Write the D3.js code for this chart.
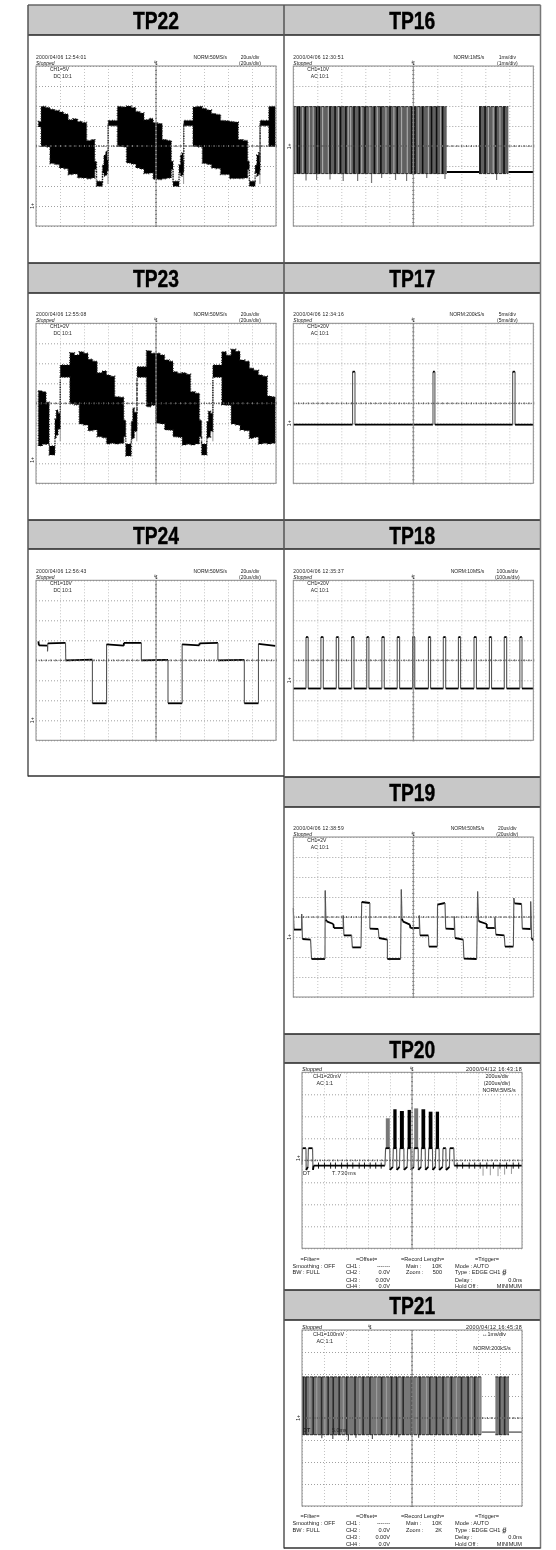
<!DOCTYPE html>
<html>
<head>
<meta charset="utf-8">
<style>
body { margin: 0; background: #fff; }
svg { display: block; }
text { font-family: "Liberation Sans", Arial, sans-serif; fill: #222; }
</style>
<script src="https://cdn.jsdelivr.net/npm/d3@7"></script>
</head>
<body>
<svg id="sheet" width="556" height="1550">
  <defs>
    <filter id="soft" filterUnits="userSpaceOnUse" x="0" y="0" width="556" height="1550">
      <feGaussianBlur stdDeviation="0.32"/>
    </filter>
  </defs>
</svg>
<script>
// all trace values are in screen divisions: t 0..10 left to right, v -4..4 around centre

var titles = ["TP22","TP16","TP23","TP17","TP24","TP18","TP19","TP20","TP21"]
var dates = ["2000/04/06 12:54:01","2000/04/06 12:30:51","2000/04/06 12:55:08","2000/04/06 12:34:16","2000/04/06 12:56:43","2000/04/06 12:35:37","2000/04/06 12:38:59","2000/04/12 16:43:18","2000/04/12 16:45:38"]
var channels = ["CH1=5V","CH1=10V","CH1=2V","CH1=20V","CH1=10V","CH1=20V","CH1=2V","CH1=20mV","CH1=100mV"]
var couplings = ["DC 10:1","AC 10:1","DC 10:1","AC 10:1","DC 10:1","AC 10:1","AC 10:1","AC 1:1","AC 1:1"]
var rates = ["NORM:50MS/s","NORM:1MS/s","NORM:50MS/s","NORM:200kS/s","NORM:50MS/s","NORM:10MS/s","NORM:50MS/s","NORM:5MS/s","NORM:200kS/s"]
var timebases = ["20us/div","1ms/div","20us/div","5ms/div","20us/div","100us/div","20us/div","200us/div","↔1ms/div"]
var groundLevels = [-3,-0.02,-2.83,-1,-3,-1,-1,0.1,0]
var triggerPos = [5,5,5,5,5,5,5,5,3.09]

// TP22 envelope
var tp22T = [.10,.21,.40,.58,.78,.97,1.15,1.34,1.54,1.73,1.92,2.11,2.30,2.45,2.52,2.77,2.83,2.90,2.96,3.01,3.39,3.58,3.77,3.96,4.16,4.33,4.50,4.70,4.88,5.07,5.26,5.45,5.64,5.71,5.96,6.02,6.08,6.13,6.16,6.54,6.73,6.93,7.12,7.31,7.50,7.69,7.88,8.06,8.25,8.43,8.62,8.82,8.89,9.13,9.20,9.27,9.32,9.34,9.70,9.97]
var tp22Top = [1.23,1.98,1.92,1.84,1.78,1.70,1.60,1.31,1.36,1.23,1.18,.28,.32,-.76,-1.76,-.95,-.45,-.27,-.70,1.28,1.98,1.95,2.00,1.92,1.73,1.65,1.31,1.38,1.18,1.12,.32,.28,-.76,-1.76,-.95,-.45,-.35,-.80,1.28,1.95,1.98,1.88,1.80,1.62,1.58,1.28,1.26,1.23,1.20,.32,.28,-.76,-1.76,-.95,-.45,-.33,-.80,1.28,1.98,1.98]
var tp22Bottom = [.95,-.02,-.05,-.88,-.93,-1.10,-1.14,-1.43,-1.40,-1.59,-1.60,-1.64,-1.60,-1.18,-2.01,-1.35,-1.50,-1.45,-1.25,1.01,-.02,-.05,-.85,-.90,-1.10,-1.15,-1.38,-1.35,-1.66,-1.68,-1.64,-1.60,-1.18,-2.01,-1.35,-1.50,-1.45,-1.30,1.01,-.02,-.05,-.88,-.92,-1.10,-1.13,-1.43,-1.42,-1.63,-1.62,-1.63,-1.60,-1.18,-2.01,-1.35,-1.50,-1.40,-1.25,1.01,-.02,-.02]
var tp22Edges = [3.0,6.15,9.33]

// TP23 envelope
var tp23T = [.10,.26,.42,.55,.79,.84,.92,1.01,1.41,1.60,1.80,1.98,2.17,2.36,2.55,2.75,2.94,3.10,3.28,3.48,3.66,3.74,3.97,4.03,4.10,4.21,4.60,4.80,4.99,5.18,5.36,5.55,5.71,5.90,6.09,6.26,6.44,6.63,6.81,6.90,7.12,7.18,7.27,7.37,7.74,7.93,8.13,8.32,8.50,8.70,8.89,9.08,9.27,9.45,9.64,9.80,9.97]
var tp23Top = [.63,.58,.05,-2.13,-.80,-.33,-.50,1.92,2.53,2.42,2.58,2.50,2.20,2.10,1.53,1.62,1.42,1.35,.33,.30,-.85,-2.03,-.90,-.25,-.45,1.83,2.63,2.50,2.50,2.42,2.17,2.10,1.58,1.50,1.53,1.45,.58,.50,-.85,-2.03,-.90,-.40,-.50,1.92,2.58,2.40,2.70,2.60,2.17,2.10,1.75,1.65,1.42,1.35,.37,.33,.33]
var tp23Bottom = [-2.13,-2.05,-2.03,-2.58,-1.75,-1.60,-1.30,1.30,-.03,-.07,-1.03,-1.08,-1.37,-1.33,-1.67,-1.72,-2.03,-2.00,-2.03,-2.00,-1.67,-2.63,-1.80,-1.75,-1.40,1.30,-.17,-.10,-1.00,-1.03,-1.33,-1.35,-1.67,-1.70,-2.08,-2.05,-2.08,-2.03,-1.67,-2.58,-1.75,-1.70,-1.40,1.30,-.08,-.10,-1.03,-1.08,-1.33,-1.37,-1.75,-1.70,-2.03,-2.00,-2.03,-2.00,-2.00]
var tp23Edges = [1.01,4.20,7.37]

// TP16 burst
var tp16BlockStart = [0,7.74]
var tp16BlockEnd = [6.39,8.96]
var tp16High = 1.97
var tp16Low = -1.38
var tp16Idle = -1.3
var tp16Dark = [.17,.25,.50,.97,1.08,1.53,1.74,1.97,2.19,2.53,2.75,2.99,3.38,3.65,4.03,4.33,4.93,5.07,5.39,5.76,5.97,6.22,7.78,7.99,8.44,8.78]
var tp16Light = [.10,.39,.67,.83,1.22,1.46,1.88,2.29,2.39,2.85,3.19,3.50,3.86,4.19,4.51,4.75,5.21,5.63,6.14,8.13,8.33,8.61]
var tp16SpikeT = [.53,.97,1.53,2.08,2.68,3.26,3.68,4.26,4.72,5.56,6.32,8.47]
var tp16SpikeV = [-1.72,-1.7,-1.68,-1.75,-1.75,-1.85,-1.6,-1.7,-1.75,-1.6,-1.65,-1.7]

// TP21 burst
var tp21BlockStart = [0,8.79]
var tp21BlockEnd = [8.16,9.41]
var tp21High = 1.87
var tp21Low = -.76
var tp21Idle = -.64
var tp21Dark = [.06,.18,.51,.89,1.19,1.42,1.69,2.03,2.41,2.78,3.09,3.62,4.07,4.30,4.60,4.98,5.36,5.81,6.11,6.41,6.79,7.25,7.55,7.85,8.99,9.21]
var tp21Light = [.36,.67,1.04,1.88,2.63,3.39,3.84,4.45,5.20,5.66,6.64,7.02,7.70,8.08]
var tp21SpikeT = [.90,1.40,2.11,2.45,3.2,4.4,5.3]
var tp21SpikeV = [-.92,-.95,-1.03,-.9,-.95,-.88,-.9]

// TP17 pulses
var tp17T = [0,2.47,2.47,2.57,2.57,5.82,5.82,5.90,5.90,9.14,9.14,9.24,9.24,10]
var tp17V = [-1.07,-1.07,1.58,1.58,-1.07,-1.07,1.58,1.58,-1.07,-1.07,1.58,1.58,-1.07,-1.07]

// TP18 pulses
var tp18Start = [.53,1.15,1.79,2.43,3.06,3.69,4.33,4.97,5.63,6.25,6.88,7.53,8.17,8.79,9.44]
var tp18End = [.62,1.25,1.89,2.53,3.15,3.79,4.43,5.06,5.72,6.35,6.97,7.63,8.26,8.89,9.53]
var tp18High = 1.16
var tp18Low = -1.41

// TP24 square wave
var tp24T = [.10,.12,.48,.48,.49,1.23,1.24,2.35,2.35,2.94,2.94,3.66,3.66,4.39,4.39,5.50,5.50,6.09,6.09,6.81,6.81,7.58,7.58,8.68,8.68,9.27,9.27,9.97]
var tp24V = [.95,.75,.73,.45,.85,.87,0,.03,-2.15,-2.15,.80,.73,.87,.87,0,.02,-2.15,-2.15,.80,.75,.85,.87,0,.02,-2.15,-2.15,.82,.72]

// TP19 stepped wave
var tp19T = [0,.03,.35,.35,.38,.72,.76,1.32,1.33,1.36,1.39,1.67,1.69,2.08,2.08,2.11,2.43,2.46,2.82,2.85,3.19,3.19,3.54,3.57,3.92,3.92,4.47,4.50,4.53,4.56,4.86,4.88,5.25,5.25,5.28,5.63,5.65,6.0,6.01,6.32,6.35,6.71,6.71,6.74,7.08,7.11,7.64,7.68,7.72,7.74,8.06,8.06,8.40,8.40,8.44,8.79,8.82,9.17,9.19,9.22,9.51,9.54,9.89,9.89,9.93,10]
var tp19V = [.45,-.63,-.63,.15,-1.1,-1.13,-2.1,-2.1,1.32,-.13,-.22,-.35,-.55,-.55,.08,-.92,-.92,-1.52,-1.52,.75,.7,-.58,-.6,-1.05,-1.13,-2.1,-2.1,1.37,-.08,-.22,-.38,-.55,-.55,.08,-.92,-.92,-1.48,-1.48,.62,.7,-.58,-.6,.03,-1.05,-1.13,-2.08,-2.1,1.28,-.17,-.22,-.35,-.55,-.55,-.02,-.88,-.92,-1.48,-1.48,.95,.68,.65,-.58,-.6,.78,-1.05,-1.18]

// TP20 packet
var tp20T = [0,.02,.18,.19,.27,.29,.48,.50,.53,3.77,3.80,3.99,4.00,4.13,4.15,4.30,4.31,4.43,4.45,4.63,4.64,4.78,4.80,4.95,4.96,5.08,5.10,5.28,5.29,5.41,5.43,5.60,5.61,5.74,5.76,5.93,5.94,6.06,6.08,6.23,6.24,6.39,6.41,6.54,6.55,6.70,6.72,6.90,6.92,10]
var tp20V = [-.2,.55,.55,-.44,-.3,.55,.55,-.44,-.24,-.24,.55,.55,-.44,-.3,.55,.55,-.44,-.3,.55,.55,-.44,-.3,.55,.55,-.44,-.3,.55,.55,-.44,-.3,.55,.55,-.44,-.3,.55,.55,-.44,-.3,.55,.55,-.44,-.3,.55,.55,-.44,-.3,.55,.55,-.24,-.24]
var tp20BurstStart = [3.81,4.15,4.45,4.80,5.10,5.43,5.76,6.08]
var tp20BurstEnd = [3.99,4.30,4.63,4.95,5.28,5.60,5.93,6.23]
var tp20BurstTop = [1.91,2.32,2.24,2.29,2.36,2.32,2.21,2.21]
var tp20BurstGrey = [true,false,false,false,true,false,false,false]
var tp20SpikeT = [8.23,8.56,8.91,9.21,9.52]
var tp20SpikeV = [-.7,-.68,-.72,-.65,-.62]
var tp20Ticks = [.75,1.02,1.3,1.52,1.8,2.06,2.31,2.6,2.84,3.1,3.35,3.6,7.05,7.3,7.6,7.85,8.1,8.4,8.7,9.0,9.3,9.6,9.85]

// menus under the two long captures
var filterLines = ["Smoothing : OFF","BW : FULL"]
var offsetNames = ["CH1 :","CH2 :","CH3 :","CH4 :"]
var offsetValues = ["-------","0.0V","0.00V","0.0V"]
var triggerNames = ["Mode : AUTO","Type : EDGE CH1  ∯","Delay :","Hold Off :"]
var triggerValues = ["","","0.0ns","MINIMUM"]
var zoomValues = ["500","2K"]

// page layout
var columns = [28,284,540.5]
var headerTops = [5,5,263,263,520,520,777,1034,1290]
var headerBottoms = [35,35,293,293,549,549,807,1063,1320]
var cellColumn = [0,1,0,1,0,1,1,1,1]
var plotTops = [66,66,323.3,323.3,580.3,580.3,837,1072.3,1330]
var plotLefts = [36,293.3,36,293.3,36,293.3,293.3,302,302]

// soft filter on everything, the source is a scanned low res page
var svg = d3.select("#sheet").append("g").attr("filter", "url(#soft)")
var divX = d3.range(0,11)
var divY = d3.range(-4,5)

function label(g, str, x, y, size, anchor, italic){
  return g.append("text")
    .attr("x", x).attr("y", y)
    .attr("font-size", size)
    .attr("text-anchor", anchor || "start")
    .attr("font-style", italic ? "italic" : "normal")
    .text(str)
}

function makePlot(i){
  var wide = i < 7
  var w = wide ? 240 : 220
  var h = wide ? 160 : 176
  var g = svg.append("g").attr("transform", "translate(" + plotLefts[i] + "," + plotTops[i] + ")")
  var x = d3.scaleLinear().domain([0,10]).range([0,w])
  var y = d3.scaleLinear().domain([-4,4]).range([h,0])

  var gx = g.append("g").attr("transform", "translate(0," + h + ")")
    .call(d3.axisTop(x).tickValues(divX).tickSize(h).tickFormat(""))
  gx.select(".domain").remove()
  gx.selectAll("line").attr("stroke", "#c4c4c4").attr("stroke-dasharray", "1,2")

  var gy = g.append("g")
    .call(d3.axisRight(y).tickValues(divY).tickSize(w).tickFormat(""))
  gy.select(".domain").remove()
  gy.selectAll("line").attr("stroke", "#a0a0a0").attr("stroke-dasharray", "1,2")

  return {g: g, x: x, y: y, w: w, h: h, i: i}
}

function finishPlot(p){
  var g = p.g, x = p.x, y = p.y, w = p.w, h = p.h

  // centre cross with its small ticks goes over the trace
  var cx = g.append("g").attr("transform", "translate(0," + (h/2 - 1) + ")")
    .call(d3.axisBottom(x).tickValues(d3.range(0,10.01,0.2)).tickSize(2).tickSizeOuter(0).tickFormat(""))
  cx.select(".domain").attr("stroke", "none")
  cx.selectAll("line").attr("stroke", "#777")
  g.append("line").attr("x1", 0).attr("x2", w).attr("y1", y(0)).attr("y2", y(0))
    .attr("stroke", "#444").attr("stroke-dasharray", "1,1.5")

  var cy = g.append("g").attr("transform", "translate(" + (w/2 - 1) + ",0)")
    .call(d3.axisRight(y).tickValues(d3.range(-4,4.01,0.2)).tickSize(2).tickSizeOuter(0).tickFormat(""))
  cy.select(".domain").attr("stroke", "none")
  cy.selectAll("line").attr("stroke", "#777")
  g.append("line").attr("x1", x(5)).attr("x2", x(5)).attr("y1", 0).attr("y2", h)
    .attr("stroke", "#888")

  g.append("rect").attr("width", w).attr("height", h)
    .attr("fill", "none").attr("stroke", "#8a8a8a").attr("stroke-width", 1)

  // trigger and ground markers
  g.append("text").attr("x", x(triggerPos[p.i])).attr("y", -1)
    .attr("font-size", 6).attr("text-anchor", "middle")
    .style("font-family", "DejaVu Sans").text("↯")
  g.append("text")
    .attr("transform", "translate(-2.5," + y(groundLevels[p.i]) + ") rotate(-90)")
    .attr("font-size", 5).attr("text-anchor", "middle").text("1+")
}

function topLabels(p){
  var g = p.g, i = p.i
  label(g, dates[i], 0, -7.5, 5).attr("letter-spacing", 0.25)
  label(g, "Stopped", 0, -1.5, 5, "start", true)
  label(g, channels[i], 14, 4.5, 5)
  label(g, couplings[i], 17.5, 11.5, 5)
  label(g, rates[i], 191, -7.5, 5, "end")
  label(g, timebases[i], 214, -7.5, 5, "middle")
  label(g, "(" + timebases[i] + ")", 214, -1.5, 5, "middle")
}

function longLabels(p, zoomValue){
  var g = p.g, i = p.i, h = p.h
  label(g, "Stopped", 0, -1.5, 5.4, "start", true)
  label(g, dates[i], 220, -1.5, 5.4, "end").attr("letter-spacing", 0.35)
  label(g, channels[i], 11, 5.5, 5.4)
  label(g, couplings[i], 14.5, 13, 5.4)
  if(i == 7){
    label(g, timebases[i], 195, 5.5, 5.4, "middle")
    label(g, "(" + timebases[i] + ")", 195, 12.5, 5.4, "middle")
    label(g, rates[i], 197, 19.5, 5.4, "middle")
  } else {
    label(g, timebases[i], 192, 5.5, 5.4, "middle")
    label(g, rates[i], 190, 19.5, 5.4, "middle")
  }

  // menu block below the graticule
  var rows = [12.3, 19.3, 26, 33.3, 40]
  label(g, "=Filter=", -1.5, h + rows[0], 5.6)
  filterLines.forEach(function(d, n){
    label(g, d, -9.5, h + rows[n+1], 5.6)
  })
  label(g, "=Offset=", 54, h + rows[0], 5.6)
  offsetNames.forEach(function(d, n){
    label(g, d, 44, h + rows[n+1], 5.6)
    label(g, offsetValues[n], 88, h + rows[n+1], 5.6, "end")
  })
  label(g, "=Record Length=", 99, h + rows[0], 5.6)
  label(g, "Main :", 104, h + rows[1], 5.6)
  label(g, "10K", 140, h + rows[1], 5.6, "end")
  label(g, "Zoom :", 104, h + rows[2], 5.6)
  label(g, zoomValue, 140, h + rows[2], 5.6, "end")
  label(g, "=Trigger=", 173, h + rows[0], 5.6)
  triggerNames.forEach(function(d, n){
    label(g, d, 153, h + rows[n+1], 5.6)
    if(triggerValues[n]) label(g, triggerValues[n], 220, h + rows[n+1], 5.6, "end")
  })
}

// black filled envelope of the noisy traces, dashed stroke roughens the edge
function drawEnvelope(p, ts, tops, bottoms, edges){
  var x = p.x, y = p.y
  var area = d3.area().curve(d3.curveStepAfter)
    .x(function(d){ return x(ts[d]) })
    .y0(function(d){ return y(bottoms[d]) })
    .y1(function(d){ return y(tops[d]) })
  p.g.selectAll(".edge").data(edges).enter().append("line")
    .attr("class", "edge")
    .attr("x1", function(d){ return x(d) }).attr("x2", function(d){ return x(d) })
    .attr("y1", y(1.1)).attr("y2", y(-1.9))
    .attr("stroke", "#999").attr("stroke-width", 1)
  p.g.append("path").attr("d", area(d3.range(ts.length)))
    .attr("fill", "#000").attr("stroke", "#222").attr("stroke-width", 1.4)
    .attr("stroke-dasharray", "1,1.3,0.6,2")
}

// thin grey edges, heavier black on the flat parts
function drawTrace(p, ts, vs){
  var x = p.x, y = p.y
  var segs = d3.pairs(d3.range(ts.length))
  p.g.selectAll(".seg").data(segs).enter().append("line")
    .attr("class", "seg")
    .attr("x1", function(d){ return x(ts[d[0]]) })
    .attr("x2", function(d){ return x(ts[d[1]]) })
    .attr("y1", function(d){ return y(vs[d[0]]) })
    .attr("y2", function(d){ return y(vs[d[1]]) })
    .attr("stroke", function(d){ return Math.abs(vs[d[1]]-vs[d[0]]) < 0.25 ? "#000" : "#555" })
    .attr("stroke-width", function(d){ return Math.abs(vs[d[1]]-vs[d[0]]) < 0.25 ? 1.8 : 1.1 })
}

// striped rectangular bursts of TP16 and TP21
function drawBurst(p, starts, ends, high, low, idle, darks, lights, spikeT, spikeV, shades){
  var g = p.g, x = p.x, y = p.y
  var idleStarts = [ends[0], ends[1]]
  var idleEnds = [starts[1], 10]
  g.selectAll(".idle").data(idleStarts).enter().append("line")
    .attr("class", "idle")
    .attr("x1", function(d){ return x(d) })
    .attr("x2", function(d, n){ return x(idleEnds[n]) })
    .attr("y1", y(idle)).attr("y2", y(idle))
    .attr("stroke", shades.idle).attr("stroke-width", shades.idleWidth)
  g.selectAll(".spike").data(spikeT).enter().append("line")
    .attr("class", "spike")
    .attr("x1", function(d){ return x(d) }).attr("x2", function(d){ return x(d) })
    .attr("y1", y(low))
    .attr("y2", function(d, n){ return y(spikeV[n]) })
    .attr("stroke", shades.spike).attr("stroke-width", 1.2)
  g.selectAll(".block").data(starts).enter().append("rect")
    .attr("class", "block")
    .attr("x", function(d){ return x(d) })
    .attr("width", function(d, n){ return x(ends[n]) - x(d) })
    .attr("y", y(high)).attr("height", y(low) - y(high))
    .attr("fill", shades.base)
  g.selectAll(".dark").data(darks).enter().append("line")
    .attr("class", "dark")
    .attr("x1", function(d){ return x(d) }).attr("x2", function(d){ return x(d) })
    .attr("y1", y(high)).attr("y2", y(low))
    .attr("stroke", shades.dark).attr("stroke-width", 1.6)
  g.selectAll(".light").data(lights).enter().append("line")
    .attr("class", "light")
    .attr("x1", function(d){ return x(d) }).attr("x2", function(d){ return x(d) })
    .attr("y1", y(high)).attr("y2", y(low))
    .attr("stroke", shades.light).attr("stroke-width", 1.2)
  g.selectAll(".rail").data(starts).enter().append("path")
    .attr("class", "rail")
    .attr("d", function(d, n){
      return "M" + x(d) + "," + y(high) + "H" + x(ends[n]) + "M" + x(d) + "," + y(low) + "H" + x(ends[n])
    })
    .attr("stroke", "#111").attr("stroke-width", 0.8).attr("stroke-dasharray", "3,1").attr("fill", "none")
}

// table behind the plots
function drawTable(){
  titles.forEach(function(name, i){
    var c = cellColumn[i]
    var left = columns[c], right = columns[c+1]
    svg.append("rect")
      .attr("x", left).attr("y", headerTops[i])
      .attr("width", right-left).attr("height", headerBottoms[i]-headerTops[i])
      .attr("fill", "#c8c8c8")
    svg.append("line").attr("x1", left).attr("x2", right)
      .attr("y1", headerBottoms[i]).attr("y2", headerBottoms[i])
      .attr("stroke", "#222").attr("stroke-width", 1.5)
    svg.append("line").attr("x1", left).attr("x2", right)
      .attr("y1", headerTops[i]).attr("y2", headerTops[i])
      .attr("stroke", i < 2 ? "#666" : "#222").attr("stroke-width", 1.5)
    svg.append("text")
      .attr("x", (left+right)/2).attr("y", headerTops[i]+23.5)
      .attr("text-anchor", "middle")
      .attr("font-size", 23).attr("font-weight", "bold")
      .attr("textLength", 46).attr("lengthAdjust", "spacingAndGlyphs")
      .attr("stroke", "#000").attr("stroke-width", 0.4)
      .style("fill", "#000")
      .text(name)
  })
  svg.append("line").attr("x1", columns[0]).attr("x2", columns[0]).attr("y1", 5).attr("y2", 776.5)
    .attr("stroke", "#555").attr("stroke-width", 1.5)
  svg.append("line").attr("x1", columns[1]).attr("x2", columns[1]).attr("y1", 5).attr("y2", 1548.5)
    .attr("stroke", "#555").attr("stroke-width", 1.5)
  svg.append("line").attr("x1", columns[2]).attr("x2", columns[2]).attr("y1", 5).attr("y2", 1548.5)
    .attr("stroke", "#777").attr("stroke-width", 1.5)
  svg.append("line").attr("x1", columns[0]).attr("x2", columns[1]).attr("y1", 776).attr("y2", 776)
    .attr("stroke", "#333").attr("stroke-width", 1.5)
  svg.append("line").attr("x1", columns[1]).attr("x2", columns[2]).attr("y1", 1548).attr("y2", 1548)
    .attr("stroke", "#333").attr("stroke-width", 1.5)
}

drawTable()

var p22 = makePlot(0)
topLabels(p22)
drawEnvelope(p22, tp22T, tp22Top, tp22Bottom, tp22Edges)
finishPlot(p22)

var p16 = makePlot(1)
topLabels(p16)
drawBurst(p16, tp16BlockStart, tp16BlockEnd, tp16High, tp16Low, tp16Idle, tp16Dark, tp16Light, tp16SpikeT, tp16SpikeV,
  {base: "#606060", dark: "#111", light: "#a8a8a8", idle: "#000", idleWidth: 2, spike: "#777"})
finishPlot(p16)

var p23 = makePlot(2)
topLabels(p23)
drawEnvelope(p23, tp23T, tp23Top, tp23Bottom, tp23Edges)
finishPlot(p23)

var p17 = makePlot(3)
topLabels(p17)
drawTrace(p17, tp17T, tp17V)
finishPlot(p17)

var p24 = makePlot(4)
topLabels(p24)
drawTrace(p24, tp24T, tp24V)
finishPlot(p24)

var p18 = makePlot(5)
topLabels(p18)
var tp18T = [0], tp18V = [tp18Low]
tp18Start.forEach(function(s, n){
  tp18T.push(s, s, tp18End[n], tp18End[n])
  tp18V.push(tp18Low, tp18High, tp18High, tp18Low)
})
tp18T.push(10)
tp18V.push(tp18Low)
drawTrace(p18, tp18T, tp18V)
finishPlot(p18)

var p19 = makePlot(6)
topLabels(p19)
drawTrace(p19, tp19T, tp19V)
finishPlot(p19)

var p20 = makePlot(7)
longLabels(p20, zoomValues[0])
p20.g.selectAll(".burst").data(tp20BurstStart).enter().append("rect")
  .attr("class", "burst")
  .attr("x", function(d){ return p20.x(d) })
  .attr("width", function(d, n){ return p20.x(tp20BurstEnd[n]) - p20.x(d) })
  .attr("y", function(d, n){ return p20.y(tp20BurstTop[n]) })
  .attr("height", function(d, n){ return p20.y(0.55) - p20.y(tp20BurstTop[n]) })
  .attr("fill", function(d, n){ return tp20BurstGrey[n] ? "#777" : "#000" })
p20.g.selectAll(".spike").data(tp20SpikeT).enter().append("line")
  .attr("class", "spike")
  .attr("x1", function(d){ return p20.x(d) }).attr("x2", function(d){ return p20.x(d) })
  .attr("y1", p20.y(-.24))
  .attr("y2", function(d, n){ return p20.y(tp20SpikeV[n]) })
  .attr("stroke", "#999")
p20.g.selectAll(".tick20").data(tp20Ticks).enter().append("line")
  .attr("class", "tick20")
  .attr("x1", function(d){ return p20.x(d) }).attr("x2", function(d){ return p20.x(d) })
  .attr("y1", p20.y(-.1)).attr("y2", p20.y(-.38))
  .attr("stroke", "#222")
drawTrace(p20, tp20T, tp20V)
finishPlot(p20)
label(p20.g, "DT", 1, 102.5, 5.4)
label(p20.g, "T.730ms", 30, 102.5, 5.4).attr("letter-spacing", 0.6)

var p21 = makePlot(8)
longLabels(p21, zoomValues[1])
drawBurst(p21, tp21BlockStart, tp21BlockEnd, tp21High, tp21Low, tp21Idle, tp21Dark, tp21Light, tp21SpikeT, tp21SpikeV,
  {base: "#777", dark: "#2c2c2c", light: "#9c9c9c", idle: "#444", idleWidth: 1.2, spike: "#555"})
finishPlot(p21)
label(p21.g, "DT", 1, 102, 5.4).style("font-weight", "bold")
label(p21.g, "5.0ms", 30, 102, 5.4)
</script>
</body>
</html>
